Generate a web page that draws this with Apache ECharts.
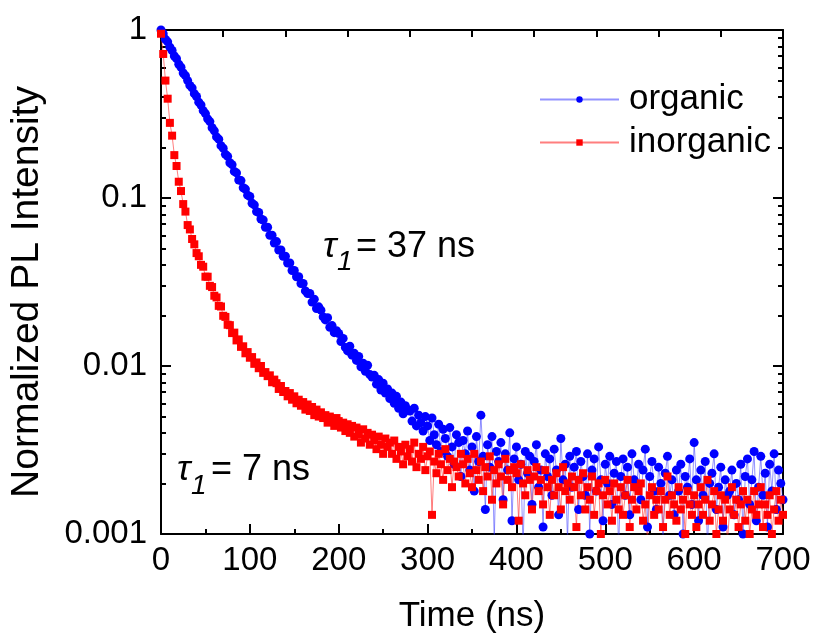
<!DOCTYPE html>
<html>
<head>
<meta charset="utf-8">
<script src="https://cdn.jsdelivr.net/npm/echarts@6/dist/echarts.min.js"></script>
<style>
  html, body { margin: 0; padding: 0; background: #fff; }
  #chart { width: 816px; height: 639px; }
</style>
</head>
<body>
<div id="chart"></div>
<script>
// PL decay, normalized, one reading every 2.5 ns from 0 to 700 ns (8 per row = 20 ns)
const timeStep = 2.5;

const organic = [
  1.0, 0.95, 0.88, 0.85, 0.79, 0.755, 0.70, 0.675,
  0.625, 0.60, 0.555, 0.535, 0.50, 0.468, 0.452, 0.418,
  0.402, 0.372, 0.358, 0.331, 0.318, 0.296, 0.285, 0.262,
  0.251, 0.231, 0.224, 0.205, 0.198, 0.182, 0.177, 0.162,
  0.158, 0.144, 0.141, 0.128, 0.127, 0.115, 0.113, 0.104,
  0.102, 0.093, 0.091, 0.083, 0.082, 0.075, 0.074, 0.067,
  0.067, 0.060, 0.060, 0.054, 0.055, 0.049, 0.049, 0.045,
  0.045, 0.041, 0.041, 0.037, 0.037, 0.034, 0.034, 0.031,
  0.031, 0.028, 0.027, 0.027, 0.024, 0.025, 0.022, 0.0225,
  0.0215, 0.0196, 0.0188, 0.0194, 0.0170, 0.0174, 0.0158, 0.0162,
  0.0156, 0.0140, 0.0146, 0.0129, 0.0123, 0.0131, 0.0116, 0.0119,
  0.0108, 0.0114, 0.0099, 0.0104, 0.0093, 0.0101, 0.0089, 0.0086,
  0.0088, 0.0078, 0.0083, 0.0072, 0.0079, 0.0069, 0.0073, 0.0064,
  0.0069, 0.0060, 0.0066, 0.0056, 0.0061, 0.0052, 0.0058, 0.0055,
  0.0054, 0.0047, 0.0056, 0.0044, 0.0051, 0.0046, 0.0041, 0.0050,
  0.0044, 0.0036, 0.0049, 0.0039, 0.0034, 0.0045, 0.0031, 0.0042,
  0.0037, 0.0029, 0.0043, 0.0033, 0.0026, 0.0039, 0.0035, 0.0022,
  0.0036, 0.0030, 0.0041, 0.0024, 0.0033, 0.0018, 0.0038, 0.0027,
  0.0051, 0.0029, 0.0014, 0.0034, 0.0025, 0.0038, 0.0009, 0.0031,
  0.0027, 0.0035, 0.0016, 0.0030, 0.0024, 0.0040, 0.0012, 0.0028,
  0.0033, 0.0021, 0.0026, 0.0008, 0.0031, 0.0023, 0.0029, 0.0015,
  0.0027, 0.0034, 0.0019, 0.0024, 0.0011, 0.0030, 0.0022, 0.0028,
  0.0017, 0.0032, 0.0024, 0.0013, 0.0037, 0.0021, 0.0026, 0.0009,
  0.0029, 0.0019, 0.0025, 0.0031, 0.0014, 0.0027, 0.0022, 0.0017,
  0.0030, 0.0010, 0.0024, 0.0028, 0.0018, 0.0033, 0.0021, 0.0012,
  0.0026, 0.0020, 0.0029, 0.0015, 0.0023, 0.0027, 0.0008, 0.0022,
  0.0028, 0.0017, 0.0025, 0.0013, 0.0030, 0.0021, 0.0019, 0.0026,
  0.0016, 0.0024, 0.0032, 0.0011, 0.0022, 0.0027, 0.0018, 0.0014,
  0.0025, 0.0020, 0.0009, 0.0023, 0.0029, 0.0017, 0.0021, 0.0013,
  0.0024, 0.0018, 0.0026, 0.0010, 0.0022, 0.0019, 0.0028, 0.0015,
  0.0035, 0.0021, 0.0012, 0.0024, 0.0017, 0.0027, 0.0008, 0.0020,
  0.0023, 0.0030, 0.0014, 0.0019, 0.0025, 0.0011, 0.0021, 0.0017,
  0.0018, 0.0024, 0.0013, 0.0020, 0.0016, 0.0026, 0.0010, 0.0022,
  0.0028, 0.0015, 0.0021, 0.0031, 0.0012, 0.0019, 0.0029, 0.0017,
  0.0023, 0.0011, 0.0026, 0.0018, 0.0030, 0.0014, 0.0024, 0.0020,
  0.0016
];

const inorganic = [
  0.95, 0.72, 0.50, 0.39, 0.28, 0.235, 0.18, 0.155,
  0.125, 0.110, 0.092, 0.083, 0.069, 0.065, 0.057, 0.053,
  0.047, 0.045, 0.040, 0.039, 0.034, 0.034, 0.030, 0.0295,
  0.0262, 0.0256, 0.0228, 0.0226, 0.0199, 0.0196, 0.0176, 0.0175,
  0.0157, 0.0158, 0.0142, 0.0144, 0.0130, 0.0131, 0.0119, 0.0121,
  0.0112, 0.0113, 0.0103, 0.0105, 0.0097, 0.0100, 0.0091, 0.0092,
  0.0087, 0.0088, 0.0080, 0.0083, 0.0079, 0.0073, 0.0076, 0.0070,
  0.0071, 0.0066, 0.0069, 0.0063, 0.0066, 0.0060, 0.0063, 0.0058,
  0.0061, 0.0055, 0.0059, 0.0054, 0.0057, 0.0051, 0.0055, 0.0050,
  0.0053, 0.0049, 0.0051, 0.0046, 0.0050, 0.0047, 0.0044, 0.0049,
  0.0047, 0.0043, 0.0046, 0.0041, 0.0045, 0.0040, 0.0044, 0.0038,
  0.0043, 0.0039, 0.0035, 0.0042, 0.0037, 0.0040, 0.0034, 0.0039,
  0.0036, 0.0032, 0.0038, 0.0034, 0.0030, 0.0037, 0.0033, 0.0035,
  0.0030, 0.0036, 0.0028, 0.0033, 0.0031, 0.0026, 0.0034, 0.0029,
  0.0032, 0.0027, 0.0035, 0.0025, 0.0030, 0.0028, 0.0033, 0.0024,
  0.0029, 0.0031, 0.0013, 0.0027, 0.0023, 0.0030, 0.0026, 0.0021,
  0.0032, 0.0024, 0.0028, 0.0019, 0.0027, 0.0025, 0.0022, 0.0030,
  0.0026, 0.0020, 0.0028, 0.0023, 0.0019, 0.0030, 0.0024, 0.0021,
  0.0027, 0.0018, 0.0025, 0.0022, 0.0029, 0.0016, 0.0024, 0.0020,
  0.0026, 0.0022, 0.0015, 0.0028, 0.0021, 0.0024, 0.0019, 0.0025,
  0.0023, 0.0012, 0.0026, 0.0020, 0.0017, 0.0024, 0.0021, 0.0014,
  0.0022, 0.0025, 0.0018, 0.0021, 0.0015, 0.0024, 0.0019, 0.0013,
  0.0021, 0.0017, 0.0023, 0.0019, 0.0014, 0.0025, 0.0018, 0.0020,
  0.0016, 0.0022, 0.0019, 0.0011, 0.0021, 0.0017, 0.0023, 0.0014,
  0.0019, 0.0016, 0.0022, 0.0013, 0.0018, 0.0020, 0.0010, 0.0017,
  0.0021, 0.0015, 0.0018, 0.0012, 0.0020, 0.0016, 0.0014, 0.0019,
  0.0013, 0.0017, 0.0021, 0.0011, 0.0016, 0.0019, 0.0014, 0.0018,
  0.0020, 0.0012, 0.0015, 0.0009, 0.0017, 0.0019, 0.0013, 0.0016,
  0.0014, 0.0018, 0.0011, 0.0016, 0.0022, 0.0013, 0.0017, 0.0015,
  0.0012, 0.0019, 0.0014, 0.0016, 0.0010, 0.0018, 0.0015, 0.0013,
  0.0017, 0.0011, 0.0015, 0.0019, 0.0013, 0.0016, 0.0021, 0.0012,
  0.0015, 0.0018, 0.0010, 0.0014, 0.0017, 0.0012, 0.0016, 0.0009,
  0.0014, 0.0019, 0.0013, 0.0016, 0.0011, 0.0015, 0.0018, 0.0012,
  0.0016, 0.0010, 0.0014, 0.0018, 0.0013, 0.0015, 0.0019, 0.0011,
  0.0015, 0.0013, 0.0017, 0.0010, 0.0014, 0.0018, 0.0012, 0.0016,
  0.0013
];

const seriesNames = ['organic', 'inorganic'];
const yMinorTicks = [
  0.002, 0.003, 0.004, 0.005, 0.006, 0.007, 0.008, 0.009,
  0.02, 0.03, 0.04, 0.05, 0.06, 0.07, 0.08, 0.09,
  0.2, 0.3, 0.4, 0.5, 0.6, 0.7, 0.8, 0.9
];
const tauLabels = ['37 ns', '7 ns'];

const FONT = '"Liberation Sans", Arial, sans-serif';

const toPairs = (vals) => vals.map((v, i) => [i * timeStep, v]);

const axisLine = { show: true, lineStyle: { color: '#000', width: 2 } };
const tickLine = { color: '#000', width: 2 };

// all four y axes share the same log range; extra ones only carry ticks
const logAxis = (p) => Object.assign({
  type: 'log',
  logBase: 10,
  min: 0.001,
  max: 1,
  splitLine: { show: false },
  axisLine: { show: false },
  axisLabel: { show: false },
}, p);

const chart = echarts.init(document.getElementById('chart'), null, { renderer: 'canvas' });

chart.setOption({
  animation: false,
  textStyle: { fontFamily: FONT },
  grid: { left: 154, right: 33, top: 30, bottom: 102, containLabel: false },
  legend: {
    data: seriesNames,
    orient: 'vertical',
    left: 539,
    top: 82,
    padding: 0,
    itemWidth: 79,
    itemHeight: 8,
    itemGap: 8,
    textStyle: { fontSize: 35, color: '#000', fontFamily: FONT, padding: [0, 0, 0, 5] },
  },
  xAxis: [
    {
      type: 'value',
      min: 0,
      max: 700,
      interval: 100,
      position: 'bottom',
      name: 'Time (ns)',
      nameLocation: 'middle',
      nameGap: 65,
      nameTextStyle: { fontSize: 35, color: '#000', fontFamily: FONT },
      axisLine,
      axisTick: { inside: true, length: 10, lineStyle: tickLine },
      minorTick: { show: true, splitNumber: 2, length: 5, lineStyle: tickLine },
      axisLabel: { fontSize: 33, color: '#000', margin: 10, fontFamily: FONT },
      splitLine: { show: false },
    },
    {
      type: 'value',
      min: 0,
      max: 700,
      interval: 70,
      position: 'top',
      axisLine,
      axisTick: { inside: true, length: 7, lineStyle: tickLine },
      axisLabel: { show: false },
      splitLine: { show: false },
    },
  ],
  yAxis: [
    logAxis({
      position: 'left',
      name: 'Normalized PL Intensity',
      nameLocation: 'middle',
      nameGap: 114,
      nameTextStyle: { fontSize: 39, color: '#000', fontFamily: FONT, padding: [0, 20, 0, 0] },
      axisLine,
      axisTick: { inside: true, length: 10, lineStyle: tickLine },
      axisLabel: {
        show: true,
        fontSize: 33,
        color: '#000',
        margin: 14,
        fontFamily: FONT,
        formatter: (v) => String(Number(v.toPrecision(3))),
      },
    }),
    logAxis({
      position: 'left',
      axisTick: { inside: true, length: 5, customValues: yMinorTicks, lineStyle: tickLine },
    }),
    logAxis({
      position: 'right',
      axisLine,
      axisTick: { inside: true, length: 10, lineStyle: tickLine },
    }),
    logAxis({
      position: 'right',
      axisTick: { inside: true, length: 5, customValues: yMinorTicks, lineStyle: tickLine },
    }),
  ],
  graphic: [
    { type: 'text', x: 323, y: 247, style: { text: 'τ', font: 'italic 36px ' + FONT, fill: '#000', verticalAlign: 'middle' } },
    { type: 'text', x: 337, y: 262, style: { text: '1', font: 'italic 28px ' + FONT, fill: '#000', verticalAlign: 'middle' } },
    { type: 'text', x: 356, y: 247, style: { text: '= ' + tauLabels[0], font: '36px ' + FONT, fill: '#000', verticalAlign: 'middle' } },
    { type: 'text', x: 177, y: 470, style: { text: 'τ', font: 'italic 36px ' + FONT, fill: '#000', verticalAlign: 'middle' } },
    { type: 'text', x: 191, y: 486, style: { text: '1', font: 'italic 28px ' + FONT, fill: '#000', verticalAlign: 'middle' } },
    { type: 'text', x: 211, y: 470, style: { text: '= ' + tauLabels[1], font: '36px ' + FONT, fill: '#000', verticalAlign: 'middle' } },
  ],
  series: [
    {
      name: seriesNames[0],
      type: 'line',
      data: toPairs(organic),
      symbol: 'circle',
      symbolSize: 9,
      showAllSymbol: true,
      clip: true,
      itemStyle: { color: '#0000ff' },
      lineStyle: { color: 'rgba(40,40,255,0.5)', width: 1 },
    },
    {
      name: seriesNames[1],
      type: 'line',
      data: toPairs(inorganic),
      symbol: 'rect',
      symbolSize: 8,
      showAllSymbol: true,
      clip: true,
      itemStyle: { color: '#ff0000' },
      lineStyle: { color: 'rgba(255,40,40,0.6)', width: 1 },
    },
  ],
});
</script>
</body>
</html>
